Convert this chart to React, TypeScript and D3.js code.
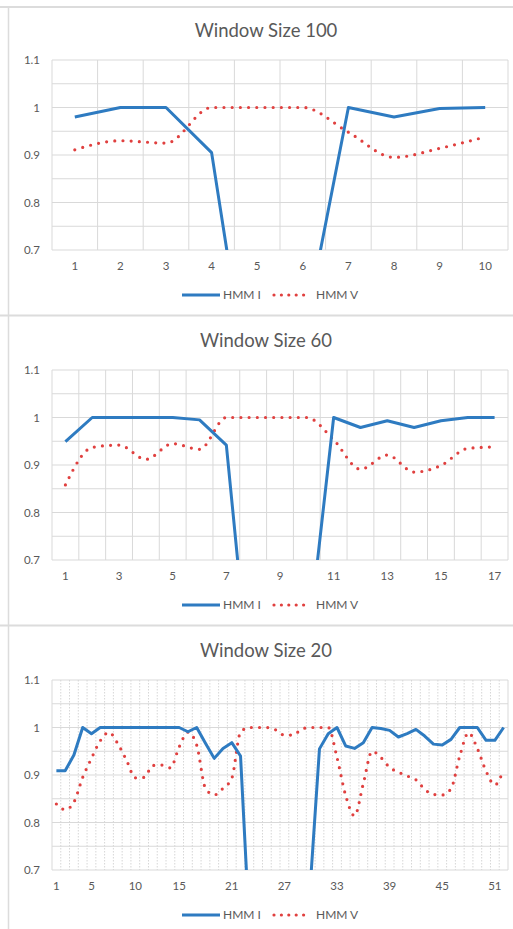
import React from 'react';
import * as d3 from 'd3';

const seriesNames = ['HMM I', 'HMM V'];
const yTicks = [0.7, 0.8, 0.9, 1, 1.1];
const yGrid = [0.7, 0.75, 0.8, 0.85, 0.9, 0.95, 1, 1.05, 1.1];

const titles = ['Window Size 100', 'Window Size 60', 'Window Size 20'];

const cats100 = d3.range(1, 11);
const hmmI100 = [0.98, 1.0, 1.0, 0.905, 0.29, 0.51, 1.0, 0.98, 0.998, 1.0];
const hmmV100 = [0.911, 0.93, 0.925, 1.0, 1.0, 1.0, 0.948, 0.895, 0.914, 0.938];
const ticks100 = [1, 2, 3, 4, 5, 6, 7, 8, 9, 10];

const cats60 = d3.range(1, 18);
const hmmI60 = [0.949, 1.0, 1.0, 1.0, 1.0, 0.995, 0.942, 0.366, 0.4, 0.5, 1.0, 0.979, 0.993, 0.979, 0.993, 1.0, 1.0];
const hmmV60 = [0.858, 0.937, 0.942, 0.912, 0.945, 0.933, 1.0, 1.0, 1.0, 1.0, 0.953, 0.891, 0.921, 0.885, 0.899, 0.935, 0.938];
const ticks60 = [1, 3, 5, 7, 9, 11, 13, 15, 17];

const cats20 = d3.range(1, 53);
const hmmI20 = [
  0.909, 0.909, 0.942, 1.0, 0.987, 1.0, 1.0, 1.0, 1.0, 1.0,
  1.0, 1.0, 1.0, 1.0, 1.0, 0.991, 1.0, 0.967, 0.935, 0.956,
  0.968, 0.94, 0.58, 0.5, 0.5, 0.5, 0.5, 0.5, 0.55, 0.68,
  0.955, 0.987, 1.0, 0.961, 0.956, 0.968, 1.0, 0.998, 0.994, 0.98,
  0.987, 0.996, 0.982, 0.965, 0.963, 0.975, 1.0, 1.0, 1.0, 0.973,
  0.973, 1.0,
];
const hmmV20 = [
  0.839, 0.827, 0.843, 0.895, 0.935, 0.972, 0.99, 0.966, 0.931, 0.894,
  0.895, 0.92, 0.921, 0.915, 0.959, 0.99, 0.963, 0.872, 0.858, 0.872,
  0.893, 0.99, 1.0, 1.0, 1.0, 0.995, 0.984, 0.984, 0.997, 1.0,
  1.0, 1.0, 0.937, 0.856, 0.814, 0.882, 0.95, 0.937, 0.916, 0.906,
  0.898, 0.89, 0.87, 0.859, 0.858, 0.871, 0.94, 0.989, 0.956, 0.908,
  0.879, 0.912,
];
const ticks20 = [1, 5, 10, 15, 21, 27, 33, 39, 45, 51];

const BLUE = '#2E7BC1';
const RED = '#E0403F';
const TXT = '#595959';
const GRID = '#d9d9d9';
const FONT = 'Lato, "Open Sans", sans-serif';

function Panel({ idx, title, cats, sI, sV, ticks, dense }) {
  const oy = idx * 310;
  const left = 52, right = 508;
  const top = oy + 60, bottom = oy + 250;
  const x = d3.scaleBand().domain(cats.map(String)).range([left, right]).padding(0);
  const y = d3.scaleLinear().domain([0.7, 1.1]).range([bottom, top]);
  const cx = (c) => (x(String(c)) as number) + x.bandwidth() / 2;
  const lineI = d3.line<number>().x((_, i) => cx(cats[i])).y((d) => y(d));
  const lineV = d3
    .line<number>()
    .x((_, i) => cx(cats[i]))
    .y((d) => y(d))
    .curve(d3.curveMonotoneX);
  const clipId = `clip${idx}`;
  const boundaries = cats.map((c) => x(String(c)) as number).concat([right]);
  return (
    <g>
      <defs>
        <clipPath id={clipId}>
          <rect x={left} y={top - 6} width={right - left + 4} height={bottom - top + 6} />
        </clipPath>
      </defs>
      <line x1={0} x2={513} y1={oy + (idx === 0 ? 7 : 5.5)} y2={oy + (idx === 0 ? 7 : 5.5)} stroke="#dcdcdc" strokeWidth={2} />
      <text x={266} y={oy + 37} textAnchor="middle" fontFamily={FONT} fontSize={18.5} fill={TXT}>
        {title}
      </text>
      {yGrid.map((v) => (
        <line key={'h' + v} x1={left} x2={right} y1={y(v)} y2={y(v)} stroke={GRID} strokeWidth={1} />
      ))}
      {boundaries.map((bx, i) => (
        <line
          key={'v' + i}
          x1={bx}
          x2={bx}
          y1={top}
          y2={bottom}
          stroke={dense && i !== 0 && i !== boundaries.length - 1 ? '#d6d6d6' : GRID}
          strokeWidth={1}
          strokeDasharray={dense && i !== 0 && i !== boundaries.length - 1 ? '1.5 1.5' : undefined}
        />
      ))}
      {yTicks.map((v) => (
        <text key={'yt' + v} x={40} y={y(v)} dy="0.35em" textAnchor="end" fontFamily={FONT} fontSize={11.5} fill={TXT}>
          {d3.format('~g')(v)}
        </text>
      ))}
      {ticks.map((t) => (
        <text key={'xt' + t} x={cx(t)} y={oy + 270} textAnchor="middle" fontFamily={FONT} fontSize={11.5} fill={TXT}>
          {t}
        </text>
      ))}
      <g clipPath={`url(#${clipId})`}>
        <path d={lineV(sV) as string} fill="none" stroke={RED} strokeWidth={3.2} strokeDasharray="0 8.2" strokeLinecap="round" />
        <path d={lineI(sI) as string} fill="none" stroke={BLUE} strokeWidth={3} strokeLinejoin="round" />
      </g>
      <line x1={182} x2={220} y1={oy + 295} y2={oy + 295} stroke={BLUE} strokeWidth={3} />
      <text x={223} y={oy + 299} fontFamily={FONT} fontSize={12} fill={TXT}>
        {seriesNames[0]}
      </text>
      <line x1={274} x2={311} y1={oy + 295} y2={oy + 295} stroke={RED} strokeWidth={3.2} strokeDasharray="0 7.4" strokeLinecap="round" />
      <text x={316} y={oy + 299} fontFamily={FONT} fontSize={12} fill={TXT}>
        {seriesNames[1]}
      </text>
    </g>
  );
}

export default function App() {
  return (
    <svg width={513} height={929} style={{ position: 'absolute', left: 0, top: 0, background: '#fff' }}>
      <rect x={0} y={0} width={513} height={929} fill="#fff" />
      <line x1={8.5} x2={8.5} y1={7} y2={929} stroke="#dcdcdc" strokeWidth={1.5} />
      <Panel idx={0} title={titles[0]} cats={cats100} sI={hmmI100} sV={hmmV100} ticks={ticks100} dense={false} />
      <Panel idx={1} title={titles[1]} cats={cats60} sI={hmmI60} sV={hmmV60} ticks={ticks60} dense={false} />
      <Panel idx={2} title={titles[2]} cats={cats20} sI={hmmI20} sV={hmmV20} ticks={ticks20} dense={true} />
    </svg>
  );
}
